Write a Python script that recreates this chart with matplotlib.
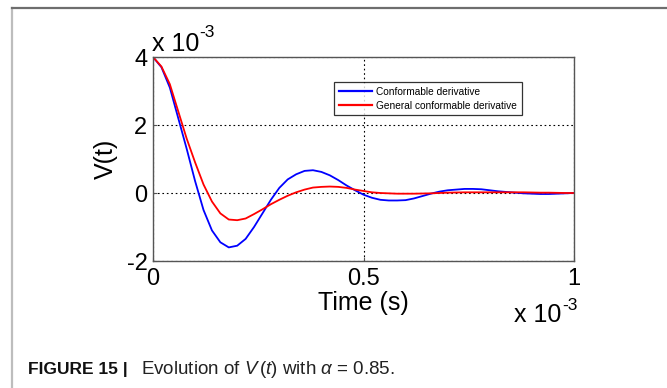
"""Evolution of V(t) with alpha = 0.85: conformable vs general conformable derivative."""

import matplotlib
matplotlib.use("Agg")
import matplotlib.pyplot as plt
from matplotlib.lines import Line2D

plt.rcParams["font.family"] = ["Liberation Sans", "DejaVu Sans"]
plt.rcParams["mathtext.fontset"] = "custom"
plt.rcParams["mathtext.rm"] = "Liberation Sans"
plt.rcParams["mathtext.it"] = "Liberation Sans:italic"

# time in units of 1e-3 s, V in units of 1e-3
time_ms = [0.00, 0.02, 0.04, 0.06, 0.08, 0.10, 0.12, 0.14, 0.16, 0.18,
           0.20, 0.22, 0.24, 0.26, 0.28, 0.30, 0.32, 0.34, 0.36, 0.38,
           0.40, 0.42, 0.44, 0.46, 0.48, 0.50, 0.52, 0.54, 0.56, 0.58,
           0.60, 0.62, 0.64, 0.66, 0.68, 0.70, 0.72, 0.74, 0.76, 0.78,
           0.80, 0.82, 0.84, 0.86, 0.88, 0.90, 0.92, 0.94, 0.96, 0.98, 1.00]

v_conformable = [4.00, 3.70, 3.10, 2.20, 1.30, 0.35, -0.50, -1.10, -1.45, -1.60,
                 -1.55, -1.35, -1.00, -0.60, -0.20, 0.15, 0.40, 0.55, 0.65, 0.67,
                 0.62, 0.52, 0.38, 0.22, 0.08, -0.05, -0.14, -0.20, -0.22, -0.22,
                 -0.21, -0.16, -0.09, -0.02, 0.04, 0.08, 0.10, 0.12, 0.12, 0.11,
                 0.08, 0.05, 0.03, 0.01, -0.01, -0.02, -0.03, -0.03, -0.02, -0.01, 0.00]

v_general = [4.00, 3.72, 3.20, 2.40, 1.60, 0.90, 0.25, -0.25, -0.60, -0.78,
             -0.80, -0.75, -0.62, -0.48, -0.33, -0.20, -0.08, 0.02, 0.10, 0.16,
             0.18, 0.19, 0.18, 0.15, 0.10, 0.06, 0.02, 0.00, -0.01, -0.02,
             -0.02, -0.02, -0.015, -0.01, 0.00, 0.01, 0.015, 0.02, 0.02, 0.02,
             0.02, 0.02, 0.02, 0.02, 0.02, 0.015, 0.01, 0.01, 0.005, 0.00, 0.00]

x_ticks = [0, 0.5, 1]
y_ticks = [-2, 0, 2, 4]

W, H = 667, 388
fig = plt.figure(figsize=(W / 100, H / 100), dpi=100)


def fx(px):
    return px / W


def fy(py):
    return 1 - py / H


# page frame
fig.add_artist(Line2D([fx(12), fx(12)], [0, fy(7.5)], transform=fig.transFigure,
                      color="#bdbdbd", linewidth=1.6))
fig.add_artist(Line2D([fx(12), 1], [fy(7.5), fy(7.5)], transform=fig.transFigure,
                      color="#6e6e6e", linewidth=1.6))

ax = fig.add_axes([fx(153), fy(261), 421 / W, 204 / H])
ax.plot(time_ms, v_conformable, color="#0000ff", linewidth=1.3, label="Conformable derivative")
ax.plot(time_ms, v_general, color="#ff0000", linewidth=1.3, label="General conformable derivative")

ax.set_xlim(0, 1)
ax.set_ylim(-2, 4)
ax.set_xticks(x_ticks)
ax.set_xticklabels(["0", "0.5", "1"])
ax.set_yticks(y_ticks)
ax.set_yticklabels(["-2", "0", "2", "4"])
ax.tick_params(direction="in", length=3, color="#555555", labelsize=17)
ax.tick_params(axis="x", pad=5)
ax.tick_params(axis="y", pad=4)
ax.grid(True, color="black", linestyle=(0, (1.5, 2.5)), linewidth=0.8)
for s in ax.spines.values():
    s.set_color("#555555")
    s.set_linewidth(1.0)

ax.set_xlabel("Time (s)", fontsize=18, labelpad=1)
ax.set_ylabel("V(t)", fontsize=18, labelpad=6)

leg = ax.legend(loc="upper left", bbox_to_anchor=((334 - 153) / 421, 1 - (82 - 57) / 204),
                fontsize=7.3, frameon=True, fancybox=False, borderpad=0.45,
                handlelength=3.3, handletextpad=0.4, labelspacing=0.4, borderaxespad=0)
leg.get_frame().set_edgecolor("black")
leg.get_frame().set_linewidth(0.9)
for h in leg.get_lines():
    h.set_linewidth(1.6)

# MATLAB-style exponent labels
fig.text(fx(152), fy(51), "x 10", fontsize=18, va="baseline", ha="left")
fig.text(fx(199), fy(25), "-3", fontsize=12.5, va="top", ha="left")
fig.text(fx(514), fy(322), "x 10", fontsize=18, va="baseline", ha="left")
fig.text(fx(562), fy(298), "-3", fontsize=12.5, va="top", ha="left")

# caption
fig.text(fx(28), fy(374), "FIGURE 15 |", fontsize=12.5, fontweight="bold",
         va="baseline", ha="left", color="#111111")
fig.text(fx(141), fy(374), r"Evolution of $V\,(t)$ with $\alpha$ = 0.85.", fontsize=13.5,
         va="baseline", ha="left", color="#222222")

fig.savefig("out.png", dpi=100)
plt.close(fig)
